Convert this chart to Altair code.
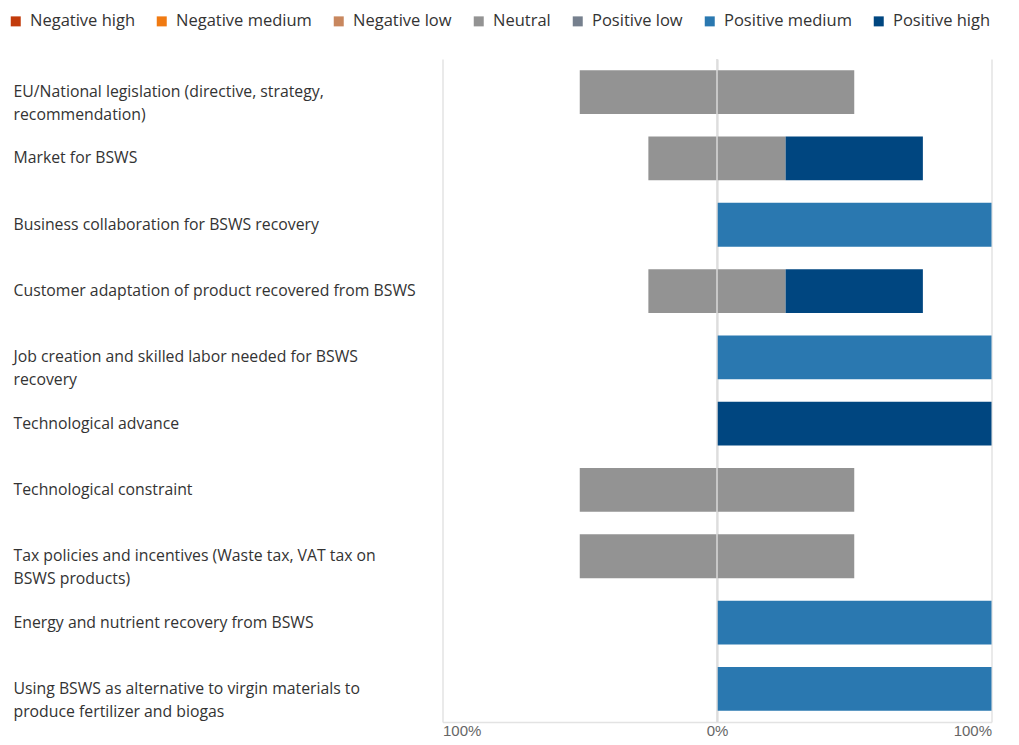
import altair as alt
import pandas as pd

categories = [
    "EU/National legislation (directive, strategy,\nrecommendation)",
    "Market for BSWS",
    "Business collaboration for BSWS recovery",
    "Customer adaptation of product recovered from BSWS",
    "Job creation and skilled labor needed for BSWS\nrecovery",
    "Technological advance",
    "Technological constraint",
    "Tax policies and incentives (Waste tax, VAT tax on\nBSWS products)",
    "Energy and nutrient recovery from BSWS",
    "Using BSWS as alternative to virgin materials to\nproduce fertilizer and biogas",
]
levels = ["Negative high", "Negative medium", "Negative low", "Neutral",
          "Positive low", "Positive medium", "Positive high"]
colors = ["#C23B0B", "#F07A12", "#C8875E", "#939393", "#76808E", "#2A78B0", "#004680"]

neg_high = [0, 0, 0, 0, 0, 0, 0, 0, 0, 0]
neg_medium = [0, 0, 0, 0, 0, 0, 0, 0, 0, 0]
neg_low = [0, 0, 0, 0, 0, 0, 0, 0, 0, 0]
neutral = [100, 50, 0, 50, 0, 0, 100, 100, 0, 0]
pos_low = [0, 0, 0, 0, 0, 0, 0, 0, 0, 0]
pos_medium = [0, 0, 100, 0, 100, 0, 0, 0, 100, 100]
pos_high = [0, 50, 0, 50, 0, 100, 0, 0, 0, 0]

series = [neg_high, neg_medium, neg_low, neutral, pos_low, pos_medium, pos_high]

rows = []
for i, cat in enumerate(categories):
    vals = [s[i] for s in series]
    start = -(vals[0] + vals[1] + vals[2] + vals[3] / 2)
    for lvl, v in zip(levels, vals):
        if v > 0:
            rows.append({"category": cat, "level": lvl, "x": start, "x2": start + v})
        start += v
df = pd.DataFrame(rows)
lab = pd.DataFrame({"category": categories})

yscale = alt.Scale(domain=categories, paddingInner=0.34, paddingOuter=0.17)

bars = alt.Chart(df).mark_bar().encode(
    x=alt.X("x:Q", scale=alt.Scale(domain=[-100, 100]),
            axis=alt.Axis(values=[-100, 0, 100], labelExpr="abs(datum.value) + '%'",
                          title=None, grid=True, gridColor="#E3E3E3", gridWidth=1.5,
                          domainColor="#E3E3E3", domainWidth=1.5, ticks=False,
                          labelFont="Liberation Sans", labelFontSize=15,
                          labelColor="#666666", labelPadding=1)),
    x2="x2:Q",
    y=alt.Y("category:N", scale=yscale, axis=None, sort=categories),
    color=alt.Color("level:N", scale=alt.Scale(domain=levels, range=colors),
                    legend=alt.Legend(orient="none", legendX=-435, legendY=-46,
                                      direction="horizontal", title=None,
                                      symbolType="square", symbolSize=100,
                                      symbolStrokeWidth=0, labelFont="Open Sans",
                                      labelFontSize=16.5, labelColor="#333333",
                                      columnPadding=18, labelOffset=6,
                                      labelLimit=300)),
)

zero = alt.Chart(pd.DataFrame({"v": [0]})).mark_rule(color="#D9D9D9", strokeWidth=1.5).encode(
    x="v:Q")

labels = alt.Chart(lab).mark_text(align="left", baseline="middle", lineBreak="\n",
                                   lineHeight=23, font="Open Sans", fontSize=15.8,
                                   color="#333333").encode(
    y=alt.Y("category:N", scale=yscale, sort=categories, axis=None),
    x=alt.value(-429),
    text="category:N",
)

chart = alt.layer(bars, zero, labels).properties(
    width=549, height=663,
    autosize=alt.AutoSizeParams(type="none"),
    padding={"left": 434.5, "top": 51, "right": 17, "bottom": 15},
).configure_view(stroke=None)

chart.save("out.html", embed_options={"renderer": "svg", "actions": False})
